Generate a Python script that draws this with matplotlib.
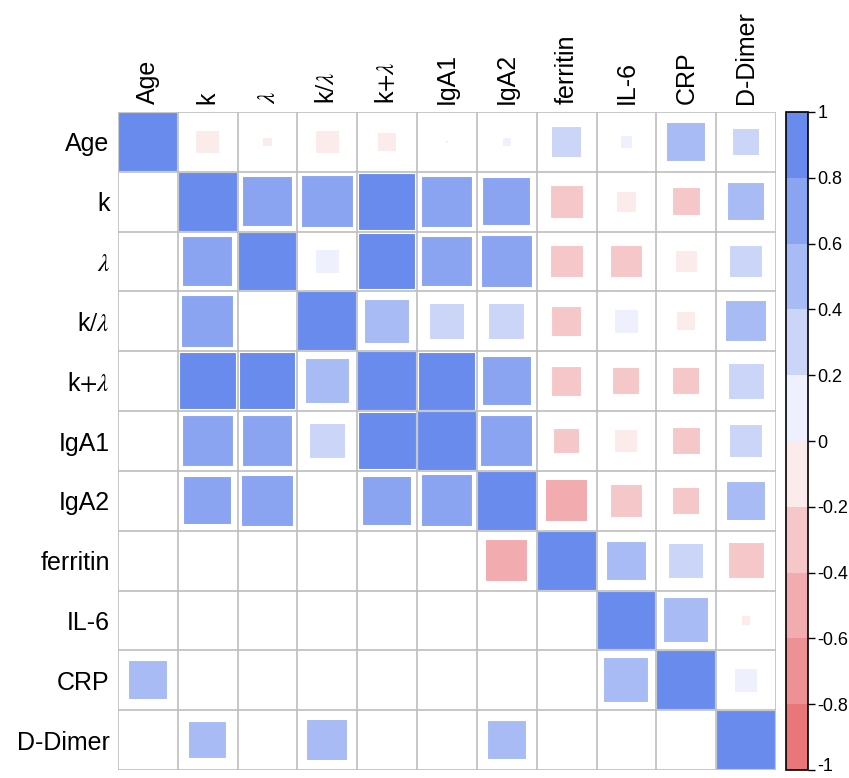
import numpy as np
import matplotlib
matplotlib.use("Agg")
import matplotlib.pyplot as plt
from matplotlib.colors import ListedColormap, BoundaryNorm
from matplotlib.patches import Rectangle
import matplotlib.colorbar as mcolorbar
import matplotlib.transforms as mtransforms

plt.rcParams['font.family'] = ['Liberation Sans', 'DejaVu Sans']
plt.rcParams['mathtext.fontset'] = 'stix'

labels = ['Age', 'k', r'$\lambda$', r'k$/\lambda$', r'k$+\lambda$', 'IgA1', 'IgA2',
          'ferritin', 'IL-6', 'CRP', 'D-Dimer']

# correlation matrix (upper triangle, mirrored)
upper = [
    [1.00, -0.17, -0.03, -0.17, -0.11, -0.003, 0.03, 0.28, 0.05, 0.44, 0.22],
    [None, 1.00, 0.72, 0.78, 0.95, 0.75, 0.67, -0.32, -0.13, -0.23, 0.42],
    [None, None, 1.00, 0.17, 0.93, 0.73, 0.77, -0.32, -0.32, -0.15, 0.32],
    [None, None, None, 1.00, 0.58, 0.38, 0.38, -0.27, 0.17, -0.11, 0.49],
    [None, None, None, None, 1.00, 0.97, 0.69, -0.27, -0.22, -0.22, 0.38],
    [None, None, None, None, None, 1.00, 0.78, -0.20, -0.16, -0.23, 0.32],
    [None, None, None, None, None, None, 1.00, -0.51, -0.32, -0.22, 0.44],
    [None, None, None, None, None, None, None, 1.00, 0.45, 0.36, -0.38],
    [None, None, None, None, None, None, None, None, 1.00, 0.59, -0.03],
    [None, None, None, None, None, None, None, None, None, 1.00, 0.17],
    [None, None, None, None, None, None, None, None, None, None, 1.00],
]

# significant pairs shown in the lower triangle (row, col)
sig_lower = [(2, 1), (3, 1), (4, 1), (4, 2), (4, 3), (5, 1), (5, 2), (5, 3), (5, 4),
             (6, 1), (6, 2), (6, 4), (6, 5), (7, 6), (9, 0), (9, 8), (10, 1), (10, 3), (10, 6)]

bin_colors = ['#E9777A', '#EE9194', '#F2ABAE', '#F6C7C9', '#FBEBEB',
              '#EEF1FD', '#CAD5F8', '#A9BBF4', '#8BA4F1', '#6A8BEE']

n = len(labels)
corr = np.eye(n)
for i in range(n):
    for j in range(i, n):
        corr[i, j] = upper[i][j]
        corr[j, i] = upper[i][j]

cmap = ListedColormap(bin_colors)
norm = BoundaryNorm(np.linspace(-1, 1, 11), cmap.N)

fig = plt.figure(figsize=(8.49, 7.78), dpi=100)
ax = fig.add_axes([118 / 849, 8 / 778, 658 / 849, 658 / 778])
ax.set_xlim(0, n)
ax.set_ylim(n, 0)

cells = [(i, j) for i in range(n) for j in range(i, n)] + sig_lower
for i, j in cells:
    r = corr[i, j]
    s = np.sqrt(abs(r))
    ax.add_patch(Rectangle((j + 0.5 - s / 2, i + 0.5 - s / 2), s, s,
                           facecolor=cmap(norm(r)), edgecolor='white', linewidth=1.5, zorder=2))

for k in range(n + 1):
    ax.axhline(k, color='#BEBEBE', lw=1.2, zorder=3)
    ax.axvline(k, color='#BEBEBE', lw=1.2, zorder=3)

ax.set_xticks(np.arange(n) + 0.5)
ax.set_yticks(np.arange(n) + 0.5)
ax.set_xticklabels(labels, rotation=90, fontsize=18)
ax.set_yticklabels(labels, fontsize=18)
ax.xaxis.tick_top()
ax.tick_params(length=0, pad=6)
for sp in ax.spines.values():
    sp.set_visible(False)

cax = fig.add_axes([786 / 849, 8 / 778, 22 / 849, 658 / 778])
cb = mcolorbar.ColorbarBase(cax, cmap=cmap, norm=norm, orientation='vertical')
ticks = np.round(np.linspace(-1, 1, 11), 1)
cb.set_ticks(ticks)
cb.set_ticklabels(['%g' % t for t in ticks])
cb.outline.set_linewidth(1.2)
cax.tick_params(labelsize=13, length=5, width=1, pad=2)

# keep the bottom "-1" inside the figure
fig.canvas.draw()
lab = cax.get_yticklabels()[0]
lab.set_transform(lab.get_transform() + mtransforms.ScaledTranslation(0, 4 / 72, fig.dpi_scale_trans))

fig.savefig('out.png', dpi=100)
